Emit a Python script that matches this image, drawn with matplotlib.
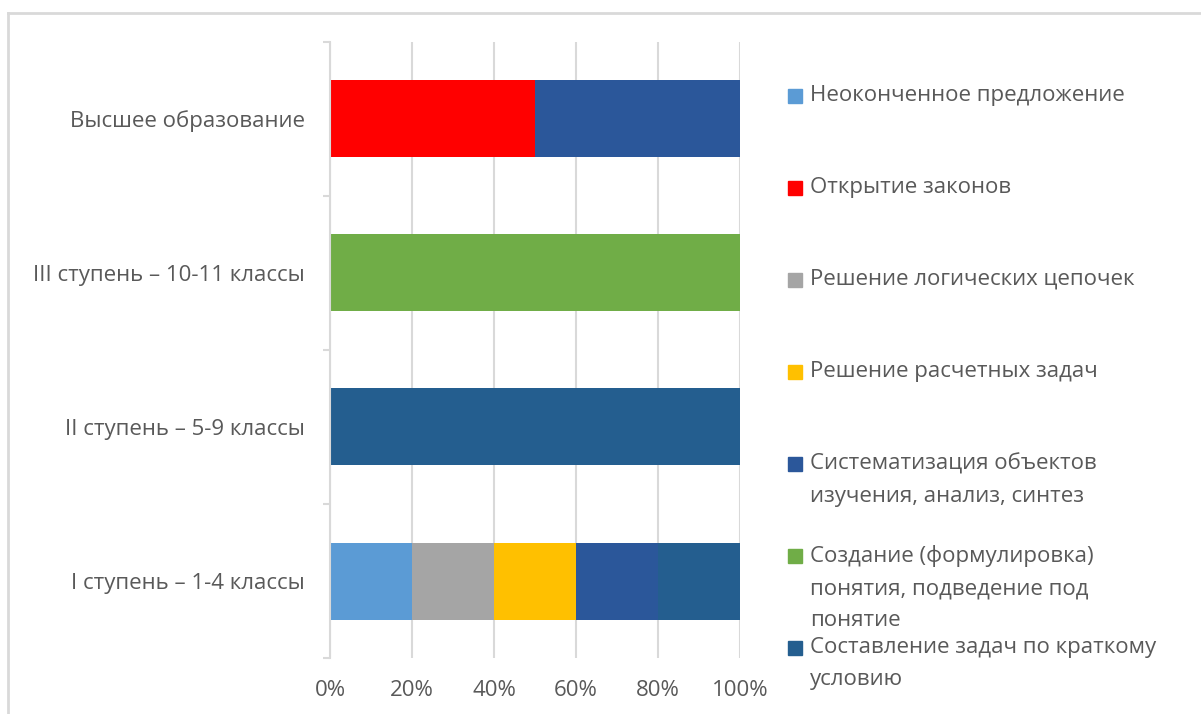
import numpy as np
import matplotlib
matplotlib.use("Agg")
import matplotlib.pyplot as plt
from matplotlib.patches import Rectangle
from matplotlib.lines import Line2D

plt.rcParams["font.family"] = ["Open Sans", "DejaVu Sans"]

# Data
categories = ["I ступень – 1-4 классы", "II ступень – 5-9 классы",
              "III ступень – 10-11 классы", "Высшее образование"]
series_names = [
    "Неоконченное предложение",
    "Открытие законов",
    "Решение логических цепочек",
    "Решение расчетных задач",
    "Систематизация объектов\nизучения, анализ, синтез",
    "Создание (формулировка)\nпонятия, подведение под\nпонятие",
    "Составление задач по краткому\nусловию",
]
neokonch = [1, 0, 0, 0]
otkrytie = [0, 0, 0, 1]
logich = [1, 0, 0, 0]
raschet = [1, 0, 0, 0]
sistem = [1, 0, 0, 1]
sozdanie = [0, 0, 1, 0]
sostavl = [1, 1, 0, 0]
colors = ["#5B9BD5", "#FF0000", "#A5A5A5", "#FFC000", "#2B579A", "#70AD47", "#245E8F"]
xticks = [0, 20, 40, 60, 80, 100]

values = np.array([neokonch, otkrytie, logich, raschet, sistem, sozdanie, sostavl], dtype=float)
shares = values / values.sum(axis=0) * 100

text_color = "#595959"
grid_color = "#D9D9D9"
fs = 16

fig = plt.figure(figsize=(12.01, 7.14), dpi=100)
ax = fig.add_axes([330 / 1201, 1 - 658 / 714, 410 / 1201, 616 / 714])

y = np.arange(len(categories))
left = np.zeros(len(categories))
for i, name in enumerate(series_names):
    ax.barh(y, shares[i], left=left, height=0.5, color=colors[i], label=name)
    left += shares[i]

ax.set_xlim(0, 100)
ax.set_ylim(-0.5, len(categories) - 0.5)
ax.set_xticks(xticks)
ax.set_xticklabels([f"{t}%" for t in xticks], color=text_color, fontsize=fs)
ax.tick_params(axis="x", length=0, pad=16)
ax.xaxis.grid(True, color=grid_color, linewidth=1.5)
ax.set_axisbelow(True)

ax.set_yticks(np.arange(len(categories) + 1) - 0.5)
ax.set_yticklabels([])
ax.tick_params(axis="y", which="major", length=5, color=grid_color, width=1.5)
ax.set_yticks(y, minor=True)
ax.set_yticklabels(categories, minor=True, color=text_color, fontsize=fs)
ax.tick_params(axis="y", which="minor", length=0, pad=18)

for s in ["top", "right", "bottom"]:
    ax.spines[s].set_visible(False)
ax.spines["left"].set_color(grid_color)
ax.spines["left"].set_linewidth(1.5)

# legend drawn by hand
legend_y = [96, 188, 280, 372, 464, 556, 648]
for name, col, ly in zip(series_names, colors, legend_y):
    fig.patches.append(Rectangle((788 / 1201, 1 - (ly + 7) / 714), 14 / 1201, 14 / 714,
                                 transform=fig.transFigure, color=col))
    fig.text(810 / 1201, 1 - (ly - 11) / 714, name, color=text_color, fontsize=fs,
             va="top", ha="left", linespacing=1.7)

# outer chart border (top and left visible)
fig.add_artist(Line2D([8 / 1201, 1.0], [1 - 13 / 714, 1 - 13 / 714],
                      transform=fig.transFigure, color=grid_color, linewidth=2))
fig.add_artist(Line2D([8 / 1201, 8 / 1201], [0, 1 - 13 / 714],
                      transform=fig.transFigure, color=grid_color, linewidth=2))

fig.savefig("out.png", dpi=100)
